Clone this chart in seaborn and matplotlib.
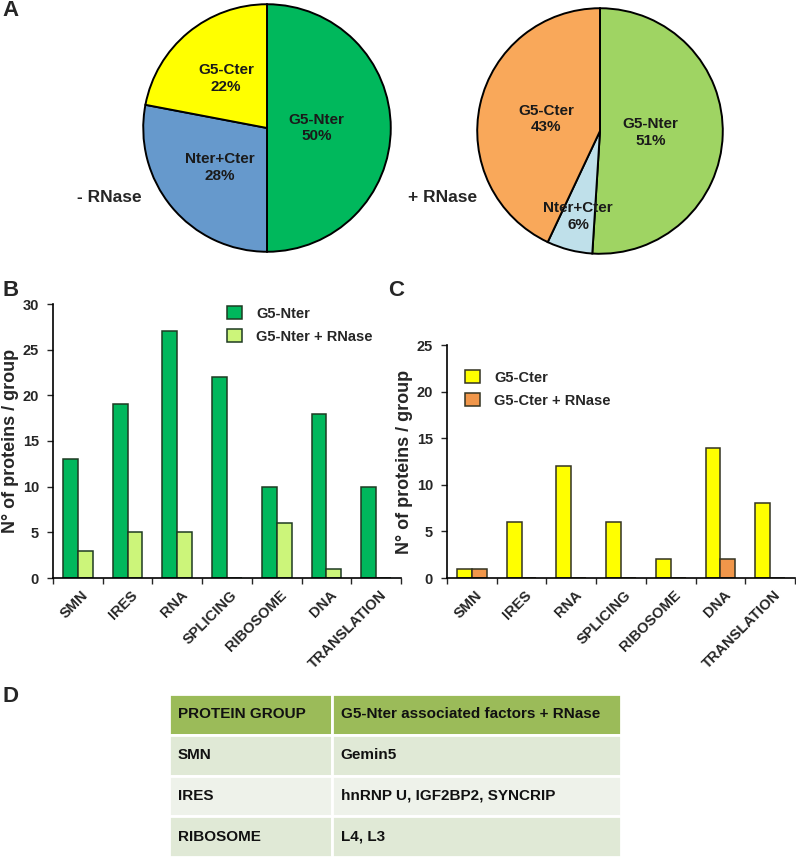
import numpy as np
import pandas as pd
import matplotlib
matplotlib.use("Agg")
import matplotlib.pyplot as plt
import matplotlib.transforms as mtransforms
import seaborn as sns

# ---------------- data ----------------
pie_labels_minus = ["G5-Nter", "Nter+Cter", "G5-Cter"]
pie_values_minus = [50, 28, 22]
pie_labels_plus = ["G5-Nter", "Nter+Cter", "G5-Cter"]
pie_values_plus = [51, 6, 43]

groups = ["SMN", "IRES", "RNA", "SPLICING", "RIBOSOME", "DNA", "TRANSLATION"]
nter = [13, 19, 27, 22, 10, 18, 10]
nter_rnase = [3, 5, 5, 0, 6, 1, 0]
cter = [1, 6, 12, 6, 2, 14, 8]
cter_rnase = [1, 0, 0, 0, 0, 2, 0]

table_header = ["PROTEIN GROUP", "G5-Nter associated factors + RNase"]
table_groups = ["SMN", "IRES", "RIBOSOME"]
table_factors = ["Gemin5", "hnRNP U, IGF2BP2, SYNCRIP", "L4, L3"]

# ---------------- style ----------------
sns.set_style("ticks")
plt.rcParams["font.family"] = ["Liberation Sans", "DejaVu Sans"]
plt.rcParams["font.weight"] = "bold"

W, H = 796, 857
fig = plt.figure(figsize=(W / 100, H / 100), dpi=100)


def box(l, t, w, h):
    return [l / W, 1 - (t + h) / H, w / W, h / H]


def ftxt(x, y, s, **kw):
    fig.text(x / W, 1 - y / H, s, **kw)


# ---------------- pies ----------------
def draw_pie(rect, labels, values, colors, dists):
    ax = fig.add_axes(rect)
    wedges, texts = ax.pie(
        values,
        labels=[f"{n}\n{v}%" for n, v in zip(labels, values)],
        colors=colors,
        startangle=90,
        counterclock=False,
        labeldistance=0.45,
        wedgeprops=dict(edgecolor="black", linewidth=1.4),
        textprops=dict(ha="center", va="center", fontsize=11,
                       fontweight="bold", color="#1a1a1a", linespacing=1.25),
    )
    for w, t, d in zip(wedges, texts, dists):
        th = np.deg2rad((w.theta1 + w.theta2) / 2)
        t.set_position((d * np.cos(th), d * np.sin(th)))
    ax.set_xlim(-1.01, 1.01)
    ax.set_ylim(-1.01, 1.01)
    ax.set_aspect("equal")
    ax.axis("off")
    return ax


draw_pie(box(267 - 125, 128 - 125, 250, 250), pie_labels_minus, pie_values_minus,
         ["#00b85c", "#6699cc", "#ffff00"], [0.40, 0.50, 0.52])
draw_pie(box(600 - 124, 131 - 124, 248, 248), pie_labels_plus, pie_values_plus,
         ["#9fd463", "#bfe0ea", "#f9a85a"], [0.41, 0.72, 0.45])

ftxt(77, 198, "- RNase", fontsize=12.5, fontweight="bold", va="center", ha="left")
ftxt(408, 198, "+ RNase", fontsize=12.5, fontweight="bold", va="center", ha="left")


# ---------------- bars ----------------
def draw_bars(rect, a, b, names, colors, ymax, legend_xy, edge):
    ax = fig.add_axes(rect)
    df = pd.DataFrame({
        "group": groups * 2,
        "count": a + b,
        "series": [names[0]] * len(groups) + [names[1]] * len(groups),
    })
    sns.barplot(data=df, x="group", y="count", hue="series", order=groups,
                hue_order=names, palette=colors, width=0.6, gap=0,
                saturation=1, edgecolor=edge, linewidth=1.1, ax=ax)
    ax.set_xlim(-0.5, len(groups) - 0.5)
    ax.set_ylim(0, ymax)
    ax.set_yticks(np.arange(0, ymax + 1, 5))
    ax.set_xlabel("")
    ax.set_ylabel("N° of proteins / group", fontsize=13, fontweight="bold",
                  labelpad=3)
    sns.despine(ax=ax)
    for s in ["left", "bottom"]:
        ax.spines[s].set_linewidth(1.2)
        ax.spines[s].set_color("black")
    ax.set_xticks(np.arange(-0.5, len(groups), 1), minor=True)
    ax.tick_params(axis="x", which="major", length=0, pad=7)
    ax.tick_params(axis="x", which="minor", length=4, width=1, direction="out")
    ax.tick_params(axis="y", length=4, width=1, direction="out", pad=6,
                   labelsize=10.5)
    for lab in ax.get_yticklabels():
        lab.set_fontweight("bold")
    offset = mtransforms.ScaledTranslation(3 / 100, 0, fig.dpi_scale_trans)
    ax.set_xticks(range(len(groups)))
    ax.set_xticklabels(groups, rotation=45, ha="right", va="top",
                       rotation_mode="anchor", fontsize=10.5, fontweight="bold")
    for lab in ax.get_xticklabels():
        lab.set_transform(lab.get_transform() + offset)
    h, l = ax.get_legend_handles_labels()
    ax.legend(h, l, loc="upper left",
              bbox_to_anchor=(legend_xy[0] / W, 1 - legend_xy[1] / H),
              bbox_transform=fig.transFigure, frameon=False, fontsize=10.5,
              handlelength=1.0, handleheight=1.0, handletextpad=1.0,
              labelspacing=0.6, borderpad=0, borderaxespad=0)
    return ax


draw_bars(box(53, 304, 348, 274), nter, nter_rnase,
          ["G5-Nter", "G5-Nter + RNase"], ["#00b85c", "#ccf57a"], 30,
          (227, 306), "#1e3a22")
draw_bars(box(447, 345, 348, 233), cter, cter_rnase,
          ["G5-Cter", "G5-Cter + RNase"], ["#ffff00", "#f0964a"], 25,
          (465, 370), "#333322")

# ---------------- panel letters ----------------
for x, y, s in [(2, 11, "A"), (2, 291, "B"), (388, 291, "C"), (2, 697, "D")]:
    ftxt(x, y, s, fontsize=16, fontweight="bold", ha="left", va="center")

# ---------------- table ----------------
tax = fig.add_axes(box(169, 694, 452, 163))
tax.axis("off")
cell_text = [[g, f] for g, f in zip(table_groups, table_factors)]
row_colors = ["#e0e9d6", "#eef2ea", "#e0e9d6"]
tbl = tax.table(cellText=cell_text, colLabels=table_header,
                cellColours=[[c, c] for c in row_colors],
                colColours=["#9bbb59", "#9bbb59"],
                colWidths=[0.36, 0.64], cellLoc="left", colLoc="left",
                bbox=[0, 0, 1, 1])
tbl.auto_set_font_size(False)
tbl.set_fontsize(11)
for (r, c), cell in tbl.get_celld().items():
    cell.set_edgecolor("white")
    cell.set_linewidth(2)
    cell.PAD = 9 / (163 if c == 0 else 289)
    cell.get_text().set_fontweight("bold")
    cell.get_text().set_color("#111111")

fig.savefig("out.png", dpi=100)
